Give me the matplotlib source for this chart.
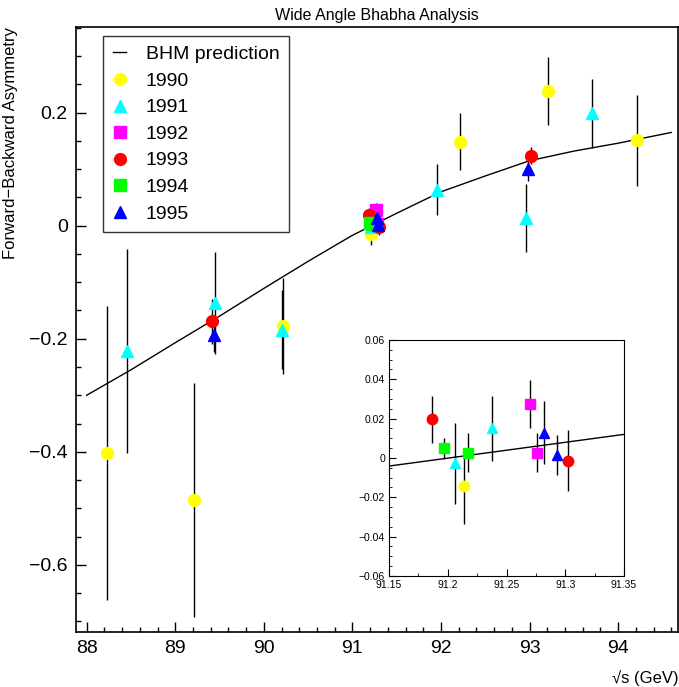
import matplotlib
matplotlib.use("Agg")
import matplotlib.pyplot as plt
from matplotlib.ticker import MultipleLocator, FuncFormatter

plt.rcParams['font.family'] = ['Liberation Sans', 'DejaVu Sans']
plt.rcParams['axes.unicode_minus'] = True

# BHM prediction curve
bhm_x = [88.0, 88.5, 89.0, 89.5, 90.0, 90.5, 91.0, 91.5, 92.0, 92.5, 93.0, 93.5, 94.0, 94.6]
bhm_y = [-0.300, -0.255, -0.207, -0.160, -0.111, -0.063, -0.017, 0.022, 0.060, 0.088,
         0.115, 0.132, 0.146, 0.165]
bhm_zoom_x = [91.15, 91.35]
bhm_zoom_y = [-0.0041, 0.0120]

# measurements per year: sqrt(s), A_FB, error
x_1990 = [88.23, 89.21, 90.22, 91.214, 92.21, 93.21, 94.21]
y_1990 = [-0.402, -0.486, -0.177, -0.0142, 0.149, 0.238, 0.151]
e_1990 = [0.26, 0.207, 0.085, 0.0195, 0.05, 0.06, 0.08]

x_1991 = [88.46, 89.45, 90.21, 91.2064, 91.2375, 91.95, 92.96, 93.71]
y_1991 = [-0.222, -0.137, -0.184, -0.0027, 0.0151, 0.064, 0.014, 0.199]
e_1991 = [0.18, 0.09, 0.07, 0.0205, 0.0165, 0.045, 0.06, 0.061]

x_1992 = [91.2698, 91.2758]
y_1992 = [0.0275, 0.0027]
e_1992 = [0.012, 0.010]

x_1993 = [89.42, 91.1868, 91.3027, 93.02]
y_1993 = [-0.169, 0.0197, -0.0014, 0.124]
e_1993 = [0.04, 0.012, 0.0155, 0.015]

x_1994 = [91.1967, 91.2174]
y_1994 = [0.0049, 0.0027]
e_1994 = [0.0055, 0.010]

x_1995 = [89.44, 91.2817, 91.2928, 92.98]
y_1995 = [-0.193, 0.0129, 0.0015, 0.100]
e_1995 = [0.03, 0.016, 0.0102, 0.02]

years = ["1990", "1991", "1992", "1993", "1994", "1995"]
xs = [x_1990, x_1991, x_1992, x_1993, x_1994, x_1995]
ys = [y_1990, y_1991, y_1992, y_1993, y_1994, y_1995]
es = [e_1990, e_1991, e_1992, e_1993, e_1994, e_1995]
colors = ["#ffff00", "#00ffff", "#ff00ff", "#ff0000", "#00ff00", "#0000ff"]
markers = ["o", "^", "s", "o", "s", "^"]


def fmt(v, pos):
    s = "%g" % v
    return s.replace("-", "\u2212")


def draw_points(ax, ms):
    for x, y, e, c, m, lab in zip(xs, ys, es, colors, markers, years):
        ax.errorbar(x, y, yerr=e, fmt="none", ecolor="k", elinewidth=1.0, zorder=2)
        ax.plot(x, y, ls="none", marker=m, ms=ms, mfc=c, mec=c, label=lab, zorder=3)


fig = plt.figure(figsize=(6.79, 6.87), dpi=100)
ax = fig.add_axes([0.112, 0.08, 0.887, 0.881])

ax.plot(bhm_x, bhm_y, color="k", lw=1.0, label="BHM prediction", zorder=2)
draw_points(ax, 8.5)

ax.set_xlim(87.88, 94.68)
ax.set_ylim(-0.719, 0.352)
ax.xaxis.set_major_locator(MultipleLocator(1))
ax.xaxis.set_minor_locator(MultipleLocator(0.2))
ax.yaxis.set_major_locator(MultipleLocator(0.2))
ax.yaxis.set_minor_locator(MultipleLocator(0.05))
ax.yaxis.set_major_formatter(FuncFormatter(fmt))
ax.xaxis.set_major_formatter(FuncFormatter(fmt))
ax.tick_params(which="both", direction="in", top=False, right=False, labelsize=14, width=1.0)
ax.tick_params(which="major", length=7, pad=6)
ax.tick_params(which="minor", length=3.5)
for sp in ax.spines.values():
    sp.set_linewidth(1.2)

ax.set_title("Wide Angle Bhabha Analysis", fontsize=11.5, pad=5)
ax.set_ylabel("Forward\u2212Backward Asymmetry", fontsize=12, loc="top", labelpad=8)
ax.set_xlabel("\u221as (GeV)", fontsize=12, loc="right", labelpad=9)

leg = ax.legend(loc="upper left", bbox_to_anchor=(0.045, 0.985), fontsize=14,
                frameon=True, fancybox=False, edgecolor="k", handlelength=0.7,
                handletextpad=1.0, labelspacing=0.46, borderpad=0.5, borderaxespad=0)
leg.get_frame().set_linewidth(1.0)

# inset zoom on the Z peak
axin = fig.add_axes([0.573, 0.1616, 0.346, 0.3435])
axin.plot(bhm_zoom_x, bhm_zoom_y, color="k", lw=1.0, zorder=2)
draw_points(axin, 7.5)
axin.set_xlim(91.15, 91.35)
axin.set_ylim(-0.06, 0.06)
axin.xaxis.set_major_locator(MultipleLocator(0.05))
axin.xaxis.set_minor_locator(MultipleLocator(0.025))
axin.yaxis.set_major_locator(MultipleLocator(0.02))
axin.yaxis.set_minor_locator(MultipleLocator(0.005))
axin.xaxis.set_major_formatter(FuncFormatter(fmt))
axin.yaxis.set_major_formatter(FuncFormatter(fmt))
axin.tick_params(which="both", direction="in", top=False, right=False, labelsize=7.5)
axin.tick_params(which="major", length=5, pad=3)
axin.tick_params(which="minor", length=2.5)

fig.savefig("out.png", dpi=100)
